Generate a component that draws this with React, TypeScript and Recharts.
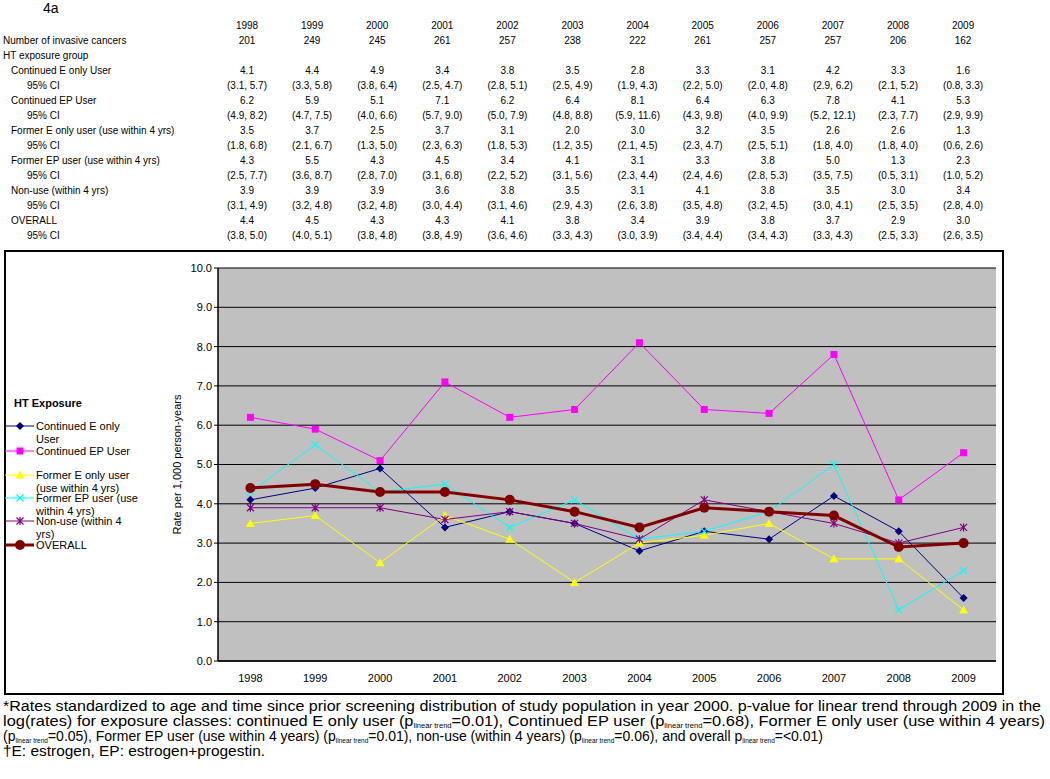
import React from "react";
import {
  LineChart,
  Line,
  XAxis,
  YAxis,
  CartesianGrid,
  ReferenceArea,
  Label,
} from "recharts";

const years = ["1998", "1999", "2000", "2001", "2002", "2003", "2004", "2005", "2006", "2007", "2008", "2009"];
const invasiveCancers = [201, 249, 245, 261, 257, 238, 222, 261, 257, 257, 206, 162];

const contEOnly = [4.1, 4.4, 4.9, 3.4, 3.8, 3.5, 2.8, 3.3, 3.1, 4.2, 3.3, 1.6];
const contEOnlyCI = ["(3.1, 5.7)", "(3.3, 5.8)", "(3.8, 6.4)", "(2.5, 4.7)", "(2.8, 5.1)", "(2.5, 4.9)", "(1.9, 4.3)", "(2.2, 5.0)", "(2.0, 4.8)", "(2.9, 6.2)", "(2.1, 5.2)", "(0.8, 3.3)"];
const contEP = [6.2, 5.9, 5.1, 7.1, 6.2, 6.4, 8.1, 6.4, 6.3, 7.8, 4.1, 5.3];
const contEPCI = ["(4.9, 8.2)", "(4.7, 7.5)", "(4.0, 6.6)", "(5.7, 9.0)", "(5.0, 7.9)", "(4.8, 8.8)", "(5.9, 11.6)", "(4.3, 9.8)", "(4.0, 9.9)", "(5.2, 12.1)", "(2.3, 7.7)", "(2.9, 9.9)"];
const formerEOnly = [3.5, 3.7, 2.5, 3.7, 3.1, 2.0, 3.0, 3.2, 3.5, 2.6, 2.6, 1.3];
const formerEOnlyCI = ["(1.8, 6.8)", "(2.1, 6.7)", "(1.3, 5.0)", "(2.3, 6.3)", "(1.8, 5.3)", "(1.2, 3.5)", "(2.1, 4.5)", "(2.3, 4.7)", "(2.5, 5.1)", "(1.8, 4.0)", "(1.8, 4.0)", "(0.6, 2.6)"];
const formerEP = [4.3, 5.5, 4.3, 4.5, 3.4, 4.1, 3.1, 3.3, 3.8, 5.0, 1.3, 2.3];
const formerEPCI = ["(2.5, 7.7)", "(3.6, 8.7)", "(2.8, 7.0)", "(3.1, 6.8)", "(2.2, 5.2)", "(3.1, 5.6)", "(2.3, 4.4)", "(2.4, 4.6)", "(2.8, 5.3)", "(3.5, 7.5)", "(0.5, 3.1)", "(1.0, 5.2)"];
const nonUse = [3.9, 3.9, 3.9, 3.6, 3.8, 3.5, 3.1, 4.1, 3.8, 3.5, 3.0, 3.4];
const nonUseCI = ["(3.1, 4.9)", "(3.2, 4.8)", "(3.2, 4.8)", "(3.0, 4.4)", "(3.1, 4.6)", "(2.9, 4.3)", "(2.6, 3.8)", "(3.5, 4.8)", "(3.2, 4.5)", "(3.0, 4.1)", "(2.5, 3.5)", "(2.8, 4.0)"];
const overall = [4.4, 4.5, 4.3, 4.3, 4.1, 3.8, 3.4, 3.9, 3.8, 3.7, 2.9, 3.0];
const overallCI = ["(3.8, 5.0)", "(4.0, 5.1)", "(3.8, 4.8)", "(3.8, 4.9)", "(3.6, 4.6)", "(3.3, 4.3)", "(3.0, 3.9)", "(3.4, 4.4)", "(3.4, 4.3)", "(3.3, 4.3)", "(2.5, 3.3)", "(2.6, 3.5)"];

const yTicks = [0, 1, 2, 3, 4, 5, 6, 7, 8, 9, 10];
const edgeTicks = [0, 1, 2, 3, 4, 5, 6, 7, 8, 9, 10, 11, 12];

type Shape = "diamond" | "square" | "triangle" | "x" | "star" | "circle";

const seriesList: {
  key: string;
  label: string;
  legend: string[];
  color: string;
  shape: Shape;
  width: number;
  values: number[];
  ci: string[];
}[] = [
  { key: "contE", label: "Continued E only User", legend: ["Continued E only", "User"], color: "#000080", shape: "diamond", width: 1, values: contEOnly, ci: contEOnlyCI },
  { key: "contEP", label: "Continued EP User", legend: ["Continued EP User"], color: "#FF00FF", shape: "square", width: 1, values: contEP, ci: contEPCI },
  { key: "formerE", label: "Former E only user (use within 4 yrs)", legend: ["Former E only user", "(use within 4 yrs)"], color: "#FFFF00", shape: "triangle", width: 1, values: formerEOnly, ci: formerEOnlyCI },
  { key: "formerEP", label: "Former EP user (use within 4 yrs)", legend: ["Former EP user (use", "within 4 yrs)"], color: "#00FFFF", shape: "x", width: 1, values: formerEP, ci: formerEPCI },
  { key: "nonUse", label: "Non-use (within 4 yrs)", legend: ["Non-use (within 4", "yrs)"], color: "#800080", shape: "star", width: 1, values: nonUse, ci: nonUseCI },
  { key: "overall", label: "OVERALL", legend: ["OVERALL"], color: "#800000", shape: "circle", width: 3, values: overall, ci: overallCI },
];

const chartData = years.map((year, i) => {
  const row: { [k: string]: string | number } = { year };
  seriesList.forEach((s) => {
    row[s.key] = s.values[i];
  });
  return row;
});

const FONT = "Arial, 'Liberation Sans', sans-serif";

function Marker({ shape, cx, cy, color }: { shape: Shape; cx: number; cy: number; color: string }) {
  switch (shape) {
    case "diamond":
      return <polygon points={`${cx},${cy - 4} ${cx + 4},${cy} ${cx},${cy + 4} ${cx - 4},${cy}`} fill={color} />;
    case "square":
      return <rect x={cx - 3.5} y={cy - 3.5} width={7} height={7} fill={color} />;
    case "triangle":
      return <polygon points={`${cx},${cy - 4.5} ${cx + 4.5},${cy + 3.5} ${cx - 4.5},${cy + 3.5}`} fill={color} />;
    case "x":
      return (
        <path
          d={`M${cx - 3.5},${cy - 3.5}L${cx + 3.5},${cy + 3.5}M${cx - 3.5},${cy + 3.5}L${cx + 3.5},${cy - 3.5}`}
          stroke={color}
          strokeWidth={1.2}
          fill="none"
        />
      );
    case "star":
      return (
        <path
          d={`M${cx - 3.5},${cy - 3.5}L${cx + 3.5},${cy + 3.5}M${cx - 3.5},${cy + 3.5}L${cx + 3.5},${cy - 3.5}M${cx},${cy - 4}L${cx},${cy + 4}`}
          stroke={color}
          strokeWidth={1.2}
          fill="none"
        />
      );
    default:
      return <circle cx={cx} cy={cy} r={5} fill={color} />;
  }
}

const colX = (i: number) => 247 + 65.1 * i;
const rowY = (r: number) => 26 + 15 * r;

function Cell({ x, y, text, align }: { x: number; y: number; text: string | number; align?: "left" | "center" }) {
  if (align === "left") {
    return (
      <div style={{ position: "absolute", left: x, top: y - 6, lineHeight: "12px", whiteSpace: "nowrap" }}>{text}</div>
    );
  }
  return (
    <div
      style={{
        position: "absolute",
        left: x - 45,
        width: 90,
        top: y - 6,
        lineHeight: "12px",
        textAlign: "center",
        whiteSpace: "nowrap",
      }}
    >
      {text}
    </div>
  );
}

function YLabel(props: any) {
  const vb = props.viewBox || { x: 0, y: 0, width: 0, height: 0 };
  const x = vb.x + 171;
  const y = vb.y + vb.height / 2;
  return (
    <text x={x} y={y} transform={`rotate(-90, ${x}, ${y})`} textAnchor="middle" dominantBaseline="central" fontSize={11} fill="#000">
      Rate per 1,000 person-years
    </text>
  );
}

const legendY = [426, 451, 475, 498, 521, 545];

// subscript "linear trend" followed by the rest of the run
const sub = (rest: string, k: string) => [
  <tspan key={k + "s"} fontSize={6.5} dy={2}>
    linear trend
  </tspan>,
  <tspan key={k + "r"} dy={-2}>
    {rest}
  </tspan>,
];

export default function App() {
  return (
    <div
      style={{
        position: "absolute",
        left: 0,
        top: 0,
        width: 1050,
        height: 779,
        background: "#fff",
        fontFamily: FONT,
        color: "#000",
        overflow: "hidden",
      }}
    >
      {/* table */}
      <div style={{ position: "absolute", left: 43, top: 0, fontSize: 14, lineHeight: "16px" }}>4a</div>
      <div style={{ fontSize: 10 }}>
        {years.map((y, i) => (
          <Cell key={"y" + y} x={colX(i)} y={rowY(0)} text={y} />
        ))}
        <Cell x={3} y={rowY(1)} text="Number of invasive cancers" align="left" />
        {invasiveCancers.map((n, i) => (
          <Cell key={"n" + i} x={colX(i)} y={rowY(1)} text={n} />
        ))}
        <Cell x={3} y={rowY(2)} text="HT exposure group" align="left" />
        {seriesList.map((s, si) => (
          <React.Fragment key={s.key}>
            <Cell x={11} y={rowY(3 + si * 2)} text={s.label} align="left" />
            <Cell x={27} y={rowY(4 + si * 2)} text="95% CI" align="left" />
            {s.values.map((v, i) => (
              <Cell key={"v" + i} x={colX(i)} y={rowY(3 + si * 2)} text={v.toFixed(1)} />
            ))}
            {s.ci.map((c, i) => (
              <Cell key={"c" + i} x={colX(i)} y={rowY(4 + si * 2)} text={c} />
            ))}
          </React.Fragment>
        ))}
      </div>

      {/* chart box */}
      <div
        style={{
          position: "absolute",
          left: 4,
          top: 250,
          width: 1000,
          height: 445,
          border: "2px solid #000",
          boxSizing: "border-box",
        }}
      >
        <LineChart
          width={996}
          height={441}
          data={chartData}
          margin={{ top: 16, right: 6, left: 0, bottom: 0 }}
          style={{ fontFamily: FONT }}
        >
          <CartesianGrid xAxisId="b_year" vertical={false} stroke="#000" fill="#C0C0C0" fillOpacity={1} />
          <ReferenceArea xAxisId="a_edge" x1={0} x2={12} y1={0} y2={10} fill="none" stroke="#808080" strokeWidth={1.5} />
          <XAxis
            xAxisId="a_edge"
            type="number"
            domain={[0, 12]}
            ticks={edgeTicks}
            tick={false}
            tickSize={5}
            height={6}
            axisLine={{ stroke: "#000", strokeWidth: 1.5 }}
            tickLine={{ stroke: "#000" }}
          />
          <XAxis
            xAxisId="b_year"
            dataKey="year"
            height={26}
            padding={{ left: 32.4, right: 32.4 }}
            axisLine={false}
            tickLine={false}
            tickSize={4}
            tickMargin={3}
            interval={0}
            tick={{ fill: "#000", fontSize: 11 }}
          />
          <YAxis
            width={212}
            domain={[0, 10]}
            ticks={yTicks}
            interval={0}
            tickFormatter={(v: number) => v.toFixed(1)}
            tickSize={4}
            tickMargin={2}
            axisLine={{ stroke: "#000", strokeWidth: 1.5 }}
            tickLine={{ stroke: "#000" }}
            tick={{ fill: "#000", fontSize: 11 }}
          >
            <Label content={<YLabel />} />
          </YAxis>
          {seriesList.map((s) => (
            <Line
              key={s.key}
              xAxisId="b_year"
              dataKey={s.key}
              name={s.label}
              type="linear"
              stroke={s.color}
              strokeWidth={s.width}
              isAnimationActive={false}
              activeDot={false}
              dot={(p: any) => <Marker key={s.key + p.index} shape={s.shape} cx={p.cx} cy={p.cy} color={s.color} />}
            />
          ))}
        </LineChart>
      </div>

      {/* legend */}
      <div style={{ position: "absolute", left: 14, top: 397, fontSize: 11, fontWeight: "bold", lineHeight: "12px" }}>
        HT Exposure
      </div>
      {seriesList.map((s, i) => (
        <div key={"lg" + s.key} style={{ position: "absolute", left: 5, top: legendY[i] - 6, fontSize: 11 }}>
          <svg width={30} height={12} style={{ position: "absolute", left: 0, top: 0 }}>
            <line x1={0} y1={6} x2={29} y2={6} stroke={s.color} strokeWidth={s.width} />
            <Marker shape={s.shape} cx={15} cy={6} color={s.color} />
          </svg>
          <div style={{ position: "absolute", left: 31, top: 0, lineHeight: "13px", whiteSpace: "nowrap" }}>
            {s.legend.map((t, j) => (
              <div key={j}>{t}</div>
            ))}
          </div>
        </div>
      ))}

      {/* footnote */}
      <svg width={1050} height={80} style={{ position: "absolute", left: 0, top: 695 }} fontFamily={FONT} fontSize={14} fill="#000">
        <text x={3} y={16} textLength={1038} lengthAdjust="spacingAndGlyphs">
          *Rates standardized to age and time since prior screening distribution of study population in year 2000. p-value for linear trend through 2009 in the
        </text>
        <text x={3} y={31} textLength={1042} lengthAdjust="spacingAndGlyphs">
          <tspan>log(rates) for exposure classes: continued E only user (p</tspan>
          {sub("=0.01), Continued EP user (p", "a")}
          {sub("=0.68), Former E only user (use within 4 years)", "b")}
        </text>
        <text x={3} y={46} textLength={820} lengthAdjust="spacingAndGlyphs">
          <tspan>(p</tspan>
          {sub("=0.05), Former EP user (use within 4 years) (p", "c")}
          {sub("=0.01), non-use (within 4 years) (p", "d")}
          {sub("=0.06), and overall p", "e")}
          {sub("=<0.01)", "f")}
        </text>
        <text x={3} y={61} textLength={262} lengthAdjust="spacingAndGlyphs">
          †E: estrogen, EP: estrogen+progestin.
        </text>
      </svg>
    </div>
  );
}
